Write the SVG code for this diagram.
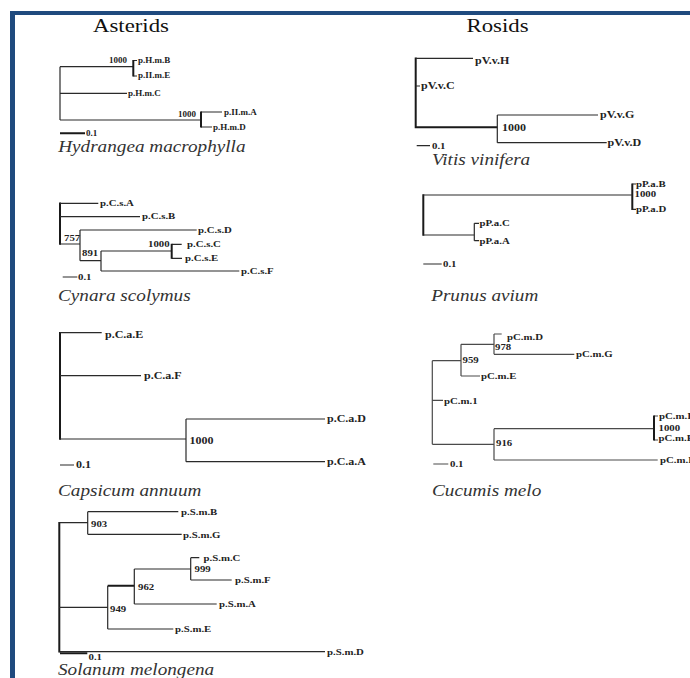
<svg xmlns="http://www.w3.org/2000/svg" width="690" height="678" viewBox="0 0 690 678">
<style>
text{font-family:"Liberation Serif","Times New Roman","DejaVu Serif",serif;fill:#222;transform-box:fill-box;transform-origin:0 0;transform:scaleX(1.2)}
.ttl{font-size:19px;fill:#111}
.sp{font-size:16px;font-style:italic;fill:#333}
.h{font-size:7.5px;font-weight:bold}
.l9{font-size:9px;font-weight:bold}
.l10{font-size:10px;font-weight:bold}
.br{fill:none;stroke:#2a2a2a;stroke-width:1.2}
.th{fill:none;stroke:#1a1a1a;stroke-width:2}
.gr{fill:none;stroke:#4a4a4a;stroke-width:1.2}
</style>
<rect x="0" y="0" width="690" height="678" fill="#fff"/>
<g id="frame" fill="#1f4a7e">
<rect x="10" y="11" width="680" height="4"/>
<rect x="10" y="11" width="5" height="667"/>
</g>
<g id="connectors">
<!-- Hydrangea -->
<path class="br" d="M60 66.7V120M60 66.7H133.3M60 93.3H127M60 120H201M201 112H222M201 127H212M133.3 60.5H137M133.3 76H137"/>
<path class="th" d="M133.3 60V76.5M201 111.5V127.5M60 133.3H85"/>
<!-- Vitis -->
<path class="th" d="M415.7 57.5V128.2M415.7 127.3H497.3"/>
<path class="br" d="M415.7 58.3H473M415.7 86H420M497.3 115V142.7M497.3 115H598M497.3 142.7H606.7M416.7 145.7H430"/>
<!-- Cynara -->
<path class="th" d="M60 202.5V244.8"/>
<path class="br" d="M60 203.3H98.3M60 216.7H140M60 244H80M80 230V260.7M80 230H196.7M80 260.7H101M101 251V271M101 251H171.7M171.7 244.3H181.7M171.7 258.3H182M101 271H239.3M62.7 277H77.3"/>
<path class="th" d="M171.7 243.8V258.8"/>
<!-- Prunus -->
<path class="th" d="M423.3 194.2V235.8M632.3 183.5V210"/>
<path class="br" d="M423.3 195H632.3M632.3 184H636M632.3 209.3H636M423.3 235H474.3M474.3 223.3V240.7M474.3 223.3H479M474.3 240.7H479M423.3 264H441.7"/>
<!-- Capsicum -->
<path class="th" d="M60 332V439.8"/>
<path class="br" d="M60 332.7H101.7M60 375.7H141M60 439H186M186 419V461.7M186 419H325M186 461.7H325M60 465H74"/>
<!-- Cucumis -->
<path class="gr" d="M432.3 360.7V444.3M432.3 360.7H461M461 344.3V376M461 344.3H494M494 334V354.3M494 334H501.7M494 354.3H574.3M461 376H480M432.3 400.3H443M432.3 444.3H494M494 428.7V460M494 428.7H654M654 416H658M654 440H658M494 460H657.7M433.3 464H448.3"/>
<path class="th" d="M654 415.5V440.5"/>
<!-- Solanum -->
<path class="th" d="M59.3 522V652.5M60 653.3H87.3M107.7 585.7H134.3"/>
<path class="br" d="M59.3 522.7H87.7M87.7 511.7V534.3M87.7 511.7H178.3M87.7 534.3H181.7M59.3 607.3H107.7M107.7 585.7V629M134.3 569V604M134.3 569H190.7M190.7 557.7V580M190.7 557.7H199.3M190.7 580H231.7M134.3 604H216.7M107.7 629H173.3M59.3 651.7H325"/>
</g>
<g id="titles">
<text class="ttl" x="93" y="32">Asterids</text>
<text class="ttl" x="466.5" y="32">Rosids</text>
</g>
<g id="hydrangea">
<text class="h" x="109" y="63">1000</text>
<text class="h" x="138" y="63">p.H.m.B</text>
<text class="h" x="138" y="78.5">p.II.m.E</text>
<text class="h" x="128" y="96">p.H.m.C</text>
<text class="h" x="178" y="117.5">1000</text>
<text class="h" x="224" y="115">p.II.m.A</text>
<text class="h" x="213" y="130">p.H.m.D</text>
<text class="h" x="86" y="136">0.1</text>
<text class="sp" x="58" y="152">Hydrangea macrophylla</text>
</g>
<g id="vitis">
<text class="l10" x="475" y="64">pV.v.H</text>
<text class="l10" x="421" y="89">pV.v.C</text>
<text class="l10" x="600" y="118.5">pV.v.G</text>
<text class="l10" x="607.5" y="146">pV.v.D</text>
<text class="l10" x="502" y="131">1000</text>
<text class="l9" x="432" y="149">0.1</text>
<text class="sp" x="432" y="165.5">Vitis vinifera</text>
</g>
<g id="cynara">
<text class="l9" x="100" y="206">p.C.s.A</text>
<text class="l9" x="142" y="219.5">p.C.s.B</text>
<text class="l9" x="64" y="241">757</text>
<text class="l9" x="198" y="233">p.C.s.D</text>
<text class="l9" x="82" y="256">891</text>
<text class="l9" x="148" y="247">1000</text>
<text class="l9" x="187" y="247.5">p.C.s.C</text>
<text class="l9" x="185" y="261">p.C.s.E</text>
<text class="l9" x="241" y="274">p.C.s.F</text>
<text class="l9" x="78" y="280">0.1</text>
<text class="sp" x="58" y="301.5">Cynara scolymus</text>
</g>
<g id="prunus">
<text class="l9" x="636" y="187">pP.a.B</text>
<text class="l9" x="634.5" y="197.5">1000</text>
<text class="l9" x="636" y="212">pP.a.D</text>
<text class="l9" x="479.5" y="226">pP.a.C</text>
<text class="l9" x="479.5" y="244">pP.a.A</text>
<text class="l9" x="443" y="267">0.1</text>
<text class="sp" x="431" y="301.5">Prunus avium</text>
</g>
<g id="capsicum">
<text class="l10" x="105" y="338.5">p.C.a.E</text>
<text class="l10" x="144" y="379">p.C.a.F</text>
<text class="l10" x="327" y="422">p.C.a.D</text>
<text class="l10" x="327" y="465">p.C.a.A</text>
<text class="l10" x="189.5" y="444">1000</text>
<text class="l10" x="76" y="468">0.1</text>
<text class="sp" x="58" y="496.5">Capsicum annuum</text>
</g>
<g id="cucumis">
<text class="l9" x="507" y="340.5">pC.m.D</text>
<text class="l9" x="495" y="350.5">978</text>
<text class="l9" x="576" y="357.5">pC.m.G</text>
<text class="l9" x="462.5" y="363.5">959</text>
<text class="l9" x="481" y="379.5">pC.m.E</text>
<text class="l9" x="444" y="404">pC.m.1</text>
<text class="l9" x="659" y="419">pC.m.I</text>
<text class="l9" x="658.5" y="431">1000</text>
<text class="l9" x="658.5" y="441">pC.m.E</text>
<text class="l9" x="660" y="463">pC.m.F</text>
<text class="l9" x="496" y="446">916</text>
<text class="l9" x="450" y="467">0.1</text>
<text class="sp" x="432" y="496.5">Cucumis melo</text>
</g>
<g id="solanum">
<text class="l9" x="181" y="515.5">p.S.m.B</text>
<text class="l9" x="91" y="527.5">903</text>
<text class="l9" x="183" y="538">p.S.m.G</text>
<text class="l9" x="203.5" y="561">p.S.m.C</text>
<text class="l9" x="194.5" y="572">999</text>
<text class="l9" x="235" y="583.5">p.S.m.F</text>
<text class="l9" x="138" y="590">962</text>
<text class="l9" x="219" y="607.5">p.S.m.A</text>
<text class="l9" x="110" y="612">949</text>
<text class="l9" x="175" y="632.5">p.S.m.E</text>
<text class="l9" x="327" y="655">p.S.m.D</text>
<text class="l9" x="88.5" y="660">0.1</text>
<text class="sp" x="58" y="675.5">Solanum melongena</text>
</g>
</svg>
